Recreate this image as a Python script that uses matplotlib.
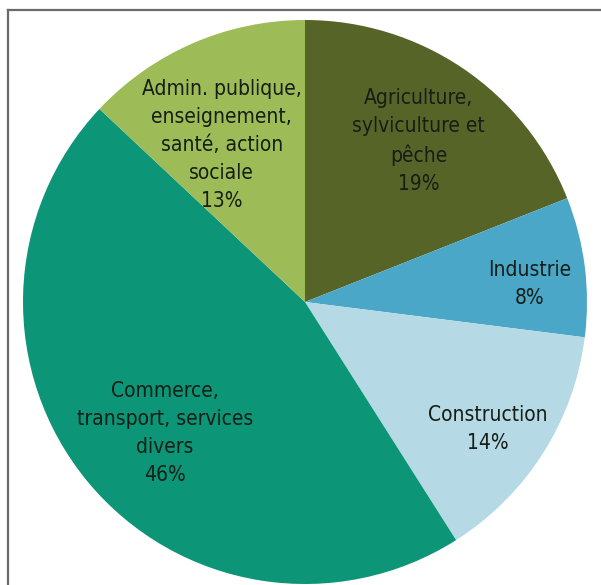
import numpy as np
import matplotlib
matplotlib.use("Agg")
from matplotlib import pyplot as plt
from matplotlib.lines import Line2D

# Employment share by sector (%), clockwise from 12 o'clock
sectors = ["Agriculture,\nsylviculture et\npêche",
           "Industrie",
           "Construction",
           "Commerce,\ntransport, services\ndivers",
           "Admin. publique,\nenseignement,\nsanté, action\nsociale"]
shares = [19, 8, 14, 46, 13]
colors = ["#566428", "#4aa7c7", "#b5dae6", "#0c9577", "#9dbb56"]

# label placement: fraction of radius, angle tweak in degrees
label_r = [0.70, 0.80, 0.79, 0.68, 0.63]
label_dang = [-1.0, -2.5, -2.5, 3.5, 4.5]

W, H = 601, 585
fig = plt.figure(figsize=(W / 100, H / 100), dpi=100)
ax = fig.add_axes([0, 0, 1, 1])

cx, cy, R = 305, H - 302, 282
wedges, _ = ax.pie(shares, colors=colors, startangle=90, counterclock=False,
                   center=(cx, cy), radius=R, frame=True,
                   wedgeprops=dict(linewidth=0))
ax.set_xlim(0, W)
ax.set_ylim(0, H)
ax.axis("off")

for w, name, val, fr, da in zip(wedges, sectors, shares, label_r, label_dang):
    mid = np.deg2rad((w.theta1 + w.theta2) / 2 + da)
    x = cx + fr * R * np.cos(mid)
    y = cy + fr * R * np.sin(mid)
    ax.text(x, y, f"{name}\n{val}%", ha="center", va="center",
            fontsize=15, color="#161e16", linespacing=1.5,
            family="DejaVu Sans", fontstretch="condensed")

# frame lines along the top and left edges
fig.add_artist(Line2D([8 / W, 1], [1 - 10 / H, 1 - 10 / H], color="#6a6a6a", lw=1.6))
fig.add_artist(Line2D([8 / W, 8 / W], [0, 1 - 10 / H], color="#6a6a6a", lw=1.6))

fig.savefig("out.png", dpi=100)
